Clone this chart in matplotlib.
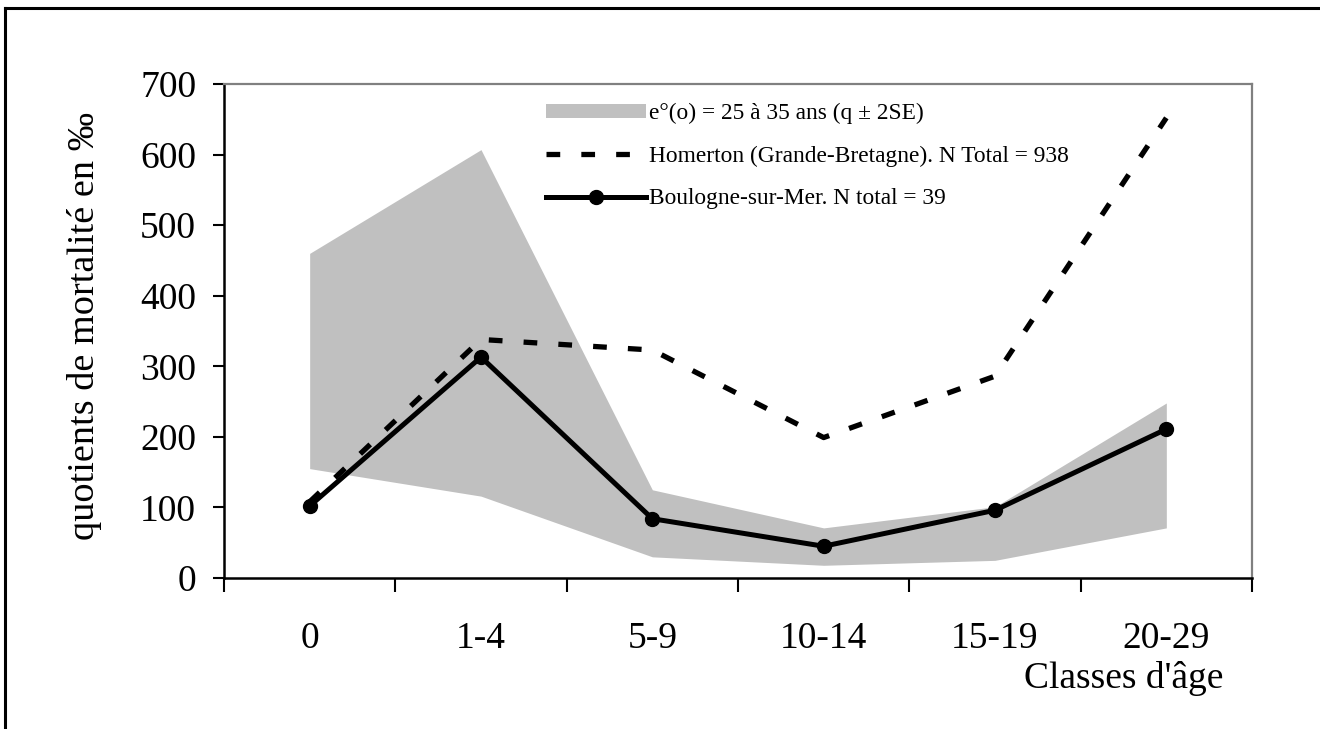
import matplotlib
matplotlib.use("Agg")
import matplotlib.pyplot as plt
from matplotlib.lines import Line2D
from matplotlib.patches import Patch

plt.rcParams['font.family'] = ['Liberation Serif', 'DejaVu Serif']

# Quotients de mortalité (‰) par classe d'âge
classes = ['0', '1-4', '5-9', '10-14', '15-19', '20-29']
boulogne = [102, 313, 84, 45, 96, 211]
homerton = [108, 338, 323, 199, 286, 652]
# intervalle q ± 2SE pour e°(o) = 25 à 35 ans
bande_haut = [460, 607, 125, 71, 101, 248]
bande_bas = [155, 116, 30, 18, 25, 71]

x = list(range(len(classes)))

fig = plt.figure(figsize=(13.2, 7.29), dpi=100)
ax = fig.add_axes([224 / 1320, 151 / 729, 1028 / 1320, 494 / 729])

ax.fill_between(x, bande_bas, bande_haut, color='#c0c0c0', linewidth=0, zorder=1)
ax.plot(x, homerton, color='black', lw=3.8, dashes=(2.6, 4.0),
        dash_capstyle='butt', zorder=2)
ax.plot(x, boulogne, color='black', lw=3.6, marker='o', markersize=10,
        zorder=3)

ax.set_xlim(-0.5, 5.5)
ax.set_ylim(0, 700)
ax.set_yticks(range(0, 701, 100))
ax.set_xticks(x)
ax.set_xticklabels(classes)
ax.set_xticks([i - 0.5 for i in range(7)], minor=True)

ax.tick_params(axis='y', direction='out', length=8, width=1.5, pad=12,
               labelsize=27)
ax.tick_params(axis='x', which='major', length=0, pad=31, labelsize=27)
ax.tick_params(axis='x', which='minor', direction='out', length=10, width=1.5)

for s in ['left', 'bottom']:
    ax.spines[s].set_linewidth(1.8)
    ax.spines[s].set_color('black')
for s in ['top', 'right']:
    ax.spines[s].set_linewidth(1.6)
    ax.spines[s].set_color('#808080')

handles = [
    Patch(facecolor='#c0c0c0', edgecolor='none'),
    Line2D([], [], color='black', lw=3.8, dashes=(2.6, 4.0), dash_capstyle='butt'),
    Line2D([], [], color='black', lw=3.6, marker='o', markersize=10),
]
labels = [
    'e°(o) = 25 à 35 ans (q ± 2SE)',
    'Homerton (Grande-Bretagne). N Total = 938',
    'Boulogne-sur-Mer. N total = 39',
]
ax.legend(handles, labels, loc='upper left', bbox_to_anchor=(0.302, 0.985),
          frameon=False, fontsize=16.8, handlelength=4.3, handleheight=0.5,
          handletextpad=0.12, labelspacing=0.92, borderpad=0)

fig.text(85 / 1320, 1 - 326 / 729, 'quotients de mortalité en ‰', rotation=90,
         ha='center', va='center', fontsize=27.5)
fig.text(1223 / 1320, 1 - 688 / 729, "Classes d'âge", ha='right',
         va='baseline', fontsize=27)

# cadre partiel autour de la figure
fig.add_artist(Line2D([5 / 1320, 5 / 1320], [0, 1 - 8 / 729], color='black', lw=2.2))
fig.add_artist(Line2D([5 / 1320, 1], [1 - 8 / 729, 1 - 8 / 729], color='black', lw=2.2))

fig.savefig('out.png', dpi=100)
